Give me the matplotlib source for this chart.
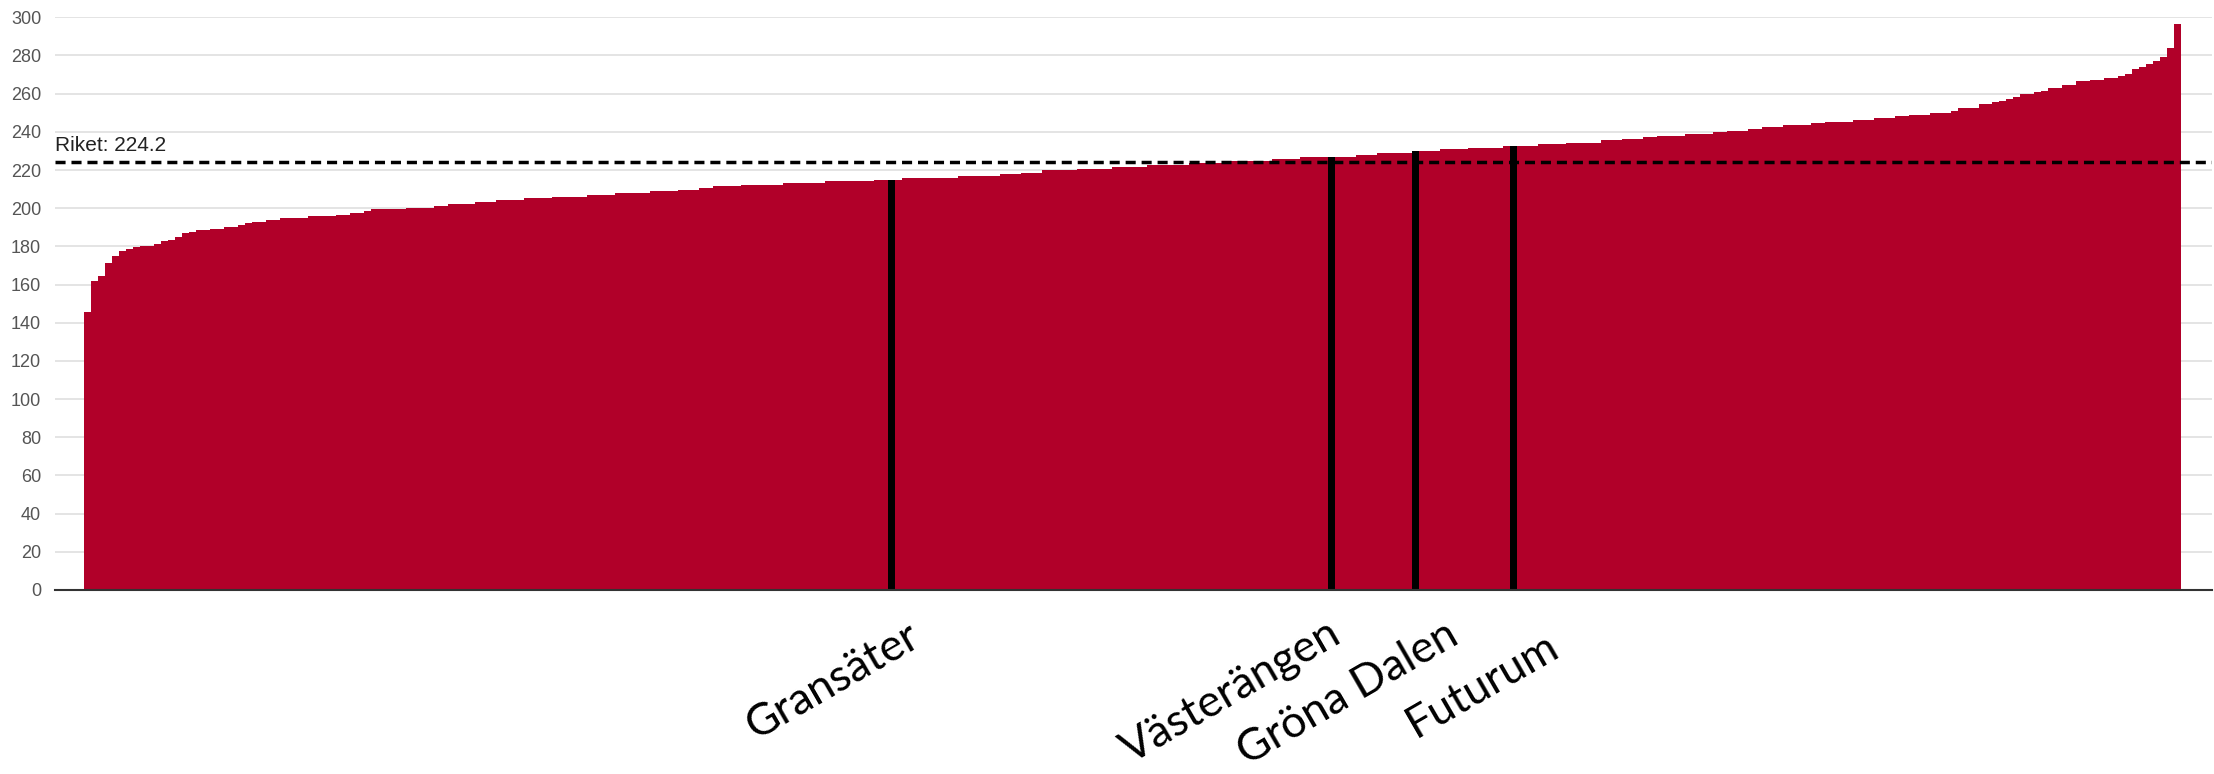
import matplotlib
matplotlib.use("Agg")
import matplotlib.pyplot as plt
import matplotlib.transforms as mtransforms

# ---------------- data ----------------
values = [
    145.4, 162.0, 164.7, 171.3, 174.8, 177.4, 178.6, 179.7, 180.4, 180.4,
    181.4, 183.0, 183.6, 184.7, 186.8, 187.7, 188.6, 188.6, 189.3, 189.3,
    190.2, 190.2, 191.2, 192.1, 193.0, 193.0, 193.9, 193.9, 194.7, 194.7,
    194.7, 194.7, 195.8, 195.8, 195.8, 195.8, 196.6, 196.6, 197.5, 197.5,
    198.6, 199.6, 199.6, 199.6, 199.6, 199.6, 200.3, 200.3, 200.3, 200.3,
    201.4, 201.4, 202.3, 202.3, 202.3, 202.3, 203.2, 203.2, 203.2, 204.2,
    204.2, 204.2, 204.2, 205.1, 205.1, 205.1, 205.1, 206.0, 206.0, 206.0,
    206.0, 206.0, 207.0, 207.0, 207.0, 207.0, 207.9, 207.9, 207.9, 207.9,
    207.9, 208.8, 208.8, 208.8, 208.8, 209.6, 209.6, 209.6, 210.5, 210.5,
    211.4, 211.4, 211.4, 211.4, 212.4, 212.4, 212.4, 212.4, 212.4, 212.4,
    213.3, 213.3, 213.3, 213.3, 213.3, 213.3, 214.2, 214.2, 214.2, 214.2,
    214.2, 214.2, 214.2, 214.9, 214.9, 214.9, 214.9, 215.8, 215.8, 215.8,
    215.8, 215.8, 215.8, 215.8, 215.8, 216.8, 216.8, 216.8, 216.8, 216.8,
    216.8, 217.9, 217.9, 217.9, 218.7, 218.7, 218.7, 219.8, 219.8, 219.8,
    219.8, 219.8, 220.7, 220.7, 220.7, 220.7, 220.7, 221.5, 221.5, 221.5,
    221.5, 221.5, 222.6, 222.6, 222.6, 222.6, 222.6, 222.6, 223.6, 223.6,
    223.6, 223.6, 223.6, 224.5, 224.5, 224.5, 224.5, 224.8, 224.8, 224.8,
    225.9, 225.9, 225.9, 225.9, 226.9, 226.9, 226.9, 226.9, 226.9, 226.9,
    226.9, 226.9, 227.8, 227.8, 227.8, 228.9, 228.9, 228.9, 228.9, 228.9,
    229.9, 229.9, 229.9, 229.9, 230.8, 230.8, 230.8, 230.8, 231.7, 231.7,
    231.7, 231.7, 231.7, 232.5, 232.5, 232.5, 232.5, 232.5, 233.6, 233.6,
    233.6, 233.6, 234.4, 234.4, 234.4, 234.4, 234.4, 235.5, 235.5, 235.5,
    236.4, 236.4, 236.4, 237.4, 237.4, 238.0, 238.0, 238.0, 238.0, 238.8,
    238.8, 238.8, 238.8, 239.9, 239.9, 240.7, 240.7, 240.7, 241.6, 241.6,
    242.5, 242.5, 242.5, 243.4, 243.4, 243.4, 243.4, 244.4, 244.4, 245.3,
    245.3, 245.3, 245.3, 246.2, 246.2, 246.2, 247.0, 247.0, 247.0, 248.1,
    248.1, 249.0, 249.0, 249.0, 249.8, 249.8, 249.8, 250.7, 252.5, 252.5,
    252.5, 254.4, 254.4, 255.4, 256.3, 257.3, 258.2, 259.9, 259.9, 260.8,
    261.6, 262.8, 262.8, 264.5, 264.5, 266.4, 266.4, 267.3, 267.3, 268.3,
    268.3, 269.2, 270.3, 272.9, 273.9, 275.5, 277.3, 279.2, 283.9, 296.5,
]
highlight_idx = [115, 178, 190, 204]
highlight_names = ["Gransäter", "Västerängen", "Gröna Dalen", "Futurum"]
riket_value = 224.2
riket_label = "Riket: 224.2"
yticks = [0, 20, 40, 60, 80, 100, 120, 140, 160, 180, 200, 220, 240, 260, 280, 300]

# ---------------- style / layout ----------------
RED = "#B10029"
W, H, DPI = 2214, 774, 100
fig = plt.figure(figsize=(W / DPI, H / DPI), dpi=DPI)
ax = fig.add_axes([55 / W, 1 - 590 / H, (2212 - 55) / W, (590 - 17.3) / H])

x = list(range(len(values)))
colors = ["black" if i in highlight_idx else RED for i in x]
ax.bar(x, values, width=1.0, color=colors, linewidth=0, antialiased=False, zorder=2)

ax.set_xlim(-4.65, 303.9)
ax.set_ylim(0, 300)
ax.set_yticks(yticks)
ax.set_yticklabels([str(t) for t in yticks], fontsize=13, color="#555555",
                   family=["Liberation Sans", "DejaVu Sans"])
ax.tick_params(axis="y", length=0, pad=10)
ax.set_xticks([])
for s in ["top", "right", "left"]:
    ax.spines[s].set_visible(False)
ax.spines["bottom"].set_color("#333333")
ax.spines["bottom"].set_linewidth(1.5)
ax.spines["bottom"].set_zorder(4)
ax.yaxis.grid(True, color="#DDDDDD", linewidth=1.1, zorder=0)
ax.set_axisbelow(True)

# national average dashed line
ax.axhline(riket_value, color="black", linewidth=2.5, dashes=(2.9, 1.7), zorder=3)
ax.annotate(riket_label, xy=(0, riket_value), xycoords=("axes fraction", "data"),
            xytext=(0, 5), textcoords="offset points", ha="left", va="bottom",
            fontsize=15, color="#222222", family=["Liberation Sans", "DejaVu Sans"])

# rotated school labels under the chart
label_dx = [-8.3, -14.4, -9.8, -4.5]
label_yfig = [1 - 681 / H, 1 - 692 / H, 1 - 693 / H, 1 - 685 / H]
trans = mtransforms.blended_transform_factory(ax.transData, fig.transFigure)
for idx, name, dx, yf in zip(highlight_idx, highlight_names, label_dx, label_yfig):
    ax.text(idx + dx, yf, name, transform=trans, rotation=30, ha="center", va="center",
            fontsize=32, color="black", family=["Lato", "DejaVu Sans"], clip_on=False)

fig.savefig("out.png", dpi=DPI)
